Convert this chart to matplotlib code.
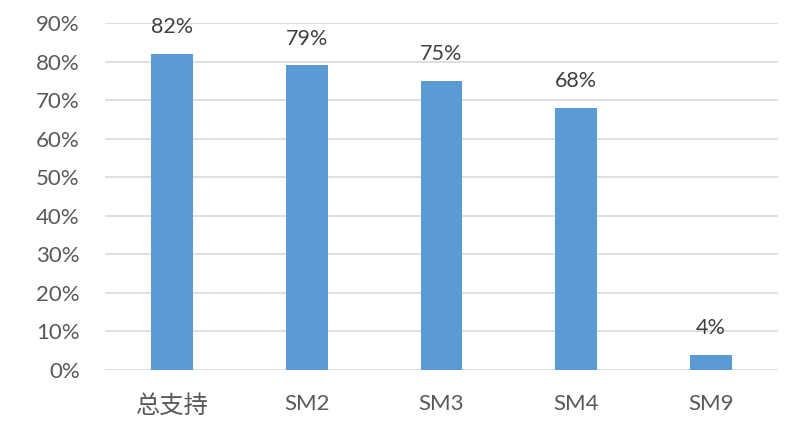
import matplotlib
matplotlib.use('Agg')
import matplotlib.pyplot as plt
from matplotlib.ticker import FuncFormatter

# data
categories = ['总支持', 'SM2', 'SM3', 'SM4', 'SM9']
support = [0.82, 0.79, 0.75, 0.68, 0.04]
value_labels = ['82%', '79%', '75%', '68%', '4%']

plt.rcParams['font.family'] = ['Lato', 'Noto Sans CJK SC', 'DejaVu Sans']

fig = plt.figure(figsize=(8, 4.34), dpi=100)
ax = fig.add_axes([0.131, 0.1475, 0.8415, 0.7995])

x = range(len(categories))
bars = ax.bar(x, support, width=0.31, color='#5B9BD5', zorder=3)

for b, lab in zip(bars, value_labels):
    ax.annotate(lab, (b.get_x() + b.get_width() / 2, b.get_height()),
                xytext=(0, 12), textcoords='offset points',
                ha='center', va='bottom', fontsize=15.5, color='#404040')

ax.set_xlim(-0.5, 4.5)
ax.set_ylim(0, 0.9)
ax.set_yticks([i / 10 for i in range(10)])
ax.yaxis.set_major_formatter(FuncFormatter(lambda v, p: f'{round(v * 100)}%'))
ax.set_xticks(list(x))
ax.set_xticklabels(categories)
ax.get_xticklabels()[0].set_fontsize(17)

ax.grid(axis='y', color='#D9D9D9', linewidth=1.2, zorder=0)
ax.tick_params(axis='both', length=0, labelsize=16, colors='#595959')
ax.get_xticklabels()[0].set_fontsize(17.5)
ax.tick_params(axis='y', pad=18)
ax.tick_params(axis='x', pad=17)
for s in ax.spines.values():
    s.set_visible(False)

fig.savefig('out.png', dpi=100)
